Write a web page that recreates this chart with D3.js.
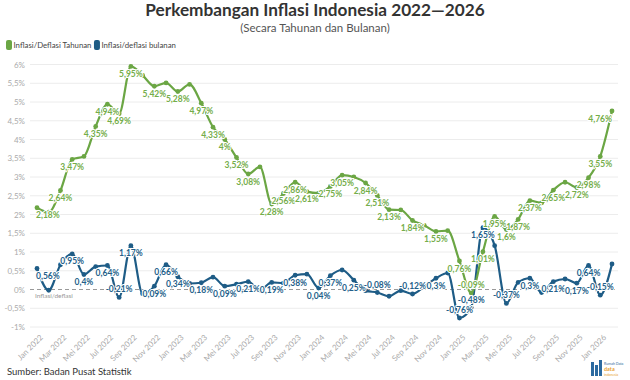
<!DOCTYPE html>
<html><head><meta charset="utf-8">
<script src="https://cdn.jsdelivr.net/npm/d3@7"></script>
<style>
html,body{margin:0;padding:0;background:#fff;}
svg{display:block;font-family:Lato,"Open Sans",sans-serif;}
</style></head>
<body>
<svg id="c" width="630" height="380"></svg>
<script>
const categories = ["Jan 2022","Feb 2022","Mar 2022","Apr 2022","Mei 2022","Jun 2022","Jul 2022","Agu 2022","Sep 2022","Okt 2022","Nov 2022","Des 2022",
"Jan 2023","Feb 2023","Mar 2023","Apr 2023","Mei 2023","Jun 2023","Jul 2023","Agu 2023","Sep 2023","Okt 2023","Nov 2023","Des 2023",
"Jan 2024","Feb 2024","Mar 2024","Apr 2024","Mei 2024","Jun 2024","Jul 2024","Agu 2024","Sep 2024","Okt 2024","Nov 2024","Des 2024",
"Jan 2025","Feb 2025","Mar 2025","Apr 2025","Mei 2025","Jun 2025","Jul 2025","Agu 2025","Sep 2025","Okt 2025","Nov 2025","Des 2025",
"Jan 2026","Feb 2026"];

const yearly = [2.18,2.06,2.64,3.47,3.55,4.35,4.94,4.69,5.95,5.71,5.42,5.51,
5.28,5.47,4.97,4.33,4.00,3.52,3.08,3.27,2.28,2.56,2.86,2.61,
2.57,2.75,3.05,3.00,2.84,2.51,2.13,2.12,1.84,1.71,1.55,1.57,
0.76,-0.09,1.01,1.95,1.60,1.87,2.37,2.31,2.65,2.86,2.72,2.98,
3.55,4.76];

const monthly = [0.56,-0.02,0.66,0.95,0.40,0.61,0.64,-0.21,1.17,-0.11,0.09,0.66,
0.34,0.16,0.18,0.33,0.09,0.14,0.21,-0.02,0.19,0.17,0.38,0.41,
0.04,0.37,0.52,0.25,-0.03,-0.08,-0.18,-0.03,-0.12,0.08,0.30,0.44,
-0.76,-0.48,1.65,1.17,-0.37,0.19,0.30,-0.08,0.21,0.28,0.17,0.64,
-0.15,0.68];

const yearlyLabelIdx = [0,2,3,5,6,7,8,10,12,14,15,16,17,18,20,21,22,23,25,26,28,29,30,32,34,36,37,38,39,40,41,42,44,46,47,48,49];
const monthlyLabelIdx = [0,3,4,6,7,8,10,11,12,14,16,18,20,22,24,25,27,29,32,34,36,37,38,40,42,44,46,47,48];

const yTicks = [-1,-0.5,0,0.5,1,1.5,2,2.5,3,3.5,4,4.5,5,5.5,6];
const xTickLabels = categories.filter((d,i)=>i%2===0);

const seriesNames = ["Inflasi/Deflasi Tahunan","Inflasi/deflasi bulanan"];
const title = "Perkembangan Inflasi Indonesia 2022\u20142026";
const subtitle = "(Secara Tahunan dan Bulanan)";
const source = "Sumber: Badan Pusat Statistik";

const GREEN = "#6ba644", BLUE = "#1e5c86";
const GREEN_T = "#74ad4a", BLUE_T = "#245f8a";

const svg = d3.select("#c");
const x = d3.scalePoint().domain(categories).range([37, 612]);
const y = d3.scaleLinear().domain([-1, 6]).range([327, 64.5]);
const pct = v => String(+v.toFixed(2)).replace(".", ",") + "%";

// title
svg.append("text").attr("x",315).attr("y",15.5).attr("text-anchor","middle")
  .attr("font-size",17.2).attr("font-weight",700).attr("fill","#333").text(title);
svg.append("text").attr("x",315).attr("y",32).attr("text-anchor","middle")
  .attr("font-size",11.5).attr("fill","#555").text(subtitle);

// legend
const lg = svg.append("g").attr("transform","translate(6,45)");
let lx = 0;
[{name:seriesNames[0],c:GREEN},{name:seriesNames[1],c:BLUE}].forEach(it=>{
  lg.append("rect").attr("x",lx).attr("y",-5).attr("width",6).attr("height",10).attr("rx",2).attr("fill",it.c);
  const t = lg.append("text").attr("x",lx+7.5).attr("y",3).attr("font-size",7.8).attr("fill","#444").text(it.name);
  lx += 7.5 + t.node().getComputedTextLength() + 2.5;
});

// grid
svg.append("g").selectAll("line").data(yTicks.filter(d=>d!==0)).join("line")
  .attr("x1",30).attr("x2",618).attr("y1",d=>y(d)).attr("y2",d=>y(d))
  .attr("stroke","#ececec").attr("stroke-width",1);

// y axis labels
const yAxis = d3.axisLeft(y).tickValues(yTicks).tickSize(0).tickPadding(0)
  .tickFormat(d=>String(d).replace(".",",")+"%");
const ya = svg.append("g").attr("transform","translate(25,0)").call(yAxis);
ya.select(".domain").remove();
ya.selectAll("text").attr("font-size",8).attr("fill","#aaa").attr("font-family","Lato,sans-serif");

// x axis labels
const xAxis = d3.axisBottom(x).tickValues(xTickLabels).tickSize(0).tickPadding(0);
const xa = svg.append("g").attr("transform","translate(0,333)").call(xAxis);
xa.select(".domain").remove();
xa.selectAll("text").attr("font-size",8).attr("fill","#aaa").attr("font-family","Lato,sans-serif")
  .attr("text-anchor","end").attr("dy","0.35em")
  .attr("transform","translate(4,3) rotate(-45)");

// zero line
svg.append("line").attr("x1",30).attr("x2",618).attr("y1",y(0)).attr("y2",y(0))
  .attr("stroke","#999").attr("stroke-width",1).attr("stroke-dasharray","4,3");
svg.append("text").attr("x",35).attr("y",y(0)+8).attr("font-size",6.5).attr("fill","#999").text("Inflasi/deflasi");

function drawSeries(vals, color, tcolor, labelIdx){
  const line = d3.line().x((d,i)=>x(categories[i])).y(d=>y(d)).curve(d3.curveMonotoneX);
  svg.append("path").datum(vals).attr("d",line).attr("fill","none")
    .attr("stroke",color).attr("stroke-width",2.2).attr("stroke-linejoin","round");
  svg.append("g").selectAll("circle").data(vals).join("circle")
    .attr("cx",(d,i)=>x(categories[i])).attr("cy",d=>y(d)).attr("r",2.4).attr("fill",color);
  return labelIdx.map(i=>({i, v:vals[i], tcolor}));
}
const labs = [].concat(
  drawSeries(monthly, BLUE, BLUE_T, monthlyLabelIdx),
  drawSeries(yearly, GREEN, GREEN_T, yearlyLabelIdx)
);
svg.append("g").selectAll("text").data(labs).join("text")
  .attr("x",d=>x(categories[d.i]) + (d.i===0?-1:0))
  .attr("y",d=>y(d.v) + (d.v>=0?10.5:-5))
  .attr("text-anchor",d=>d.i===0?"start":(d.i===categories.length-1?"end":"middle"))
  .attr("font-size",8.5).attr("font-weight",700).attr("fill",d=>d.tcolor)
  .attr("stroke","#fff").attr("stroke-width",2).attr("stroke-linejoin","round")
  .attr("paint-order","stroke")
  .text(d=>pct(d.v));

// source
svg.append("text").attr("x",7).attr("y",375).attr("font-size",9.5).attr("fill","#333").text(source);

// logo
const logo = svg.append("g").attr("transform","translate(591,359)");
logo.append("rect").attr("x",0).attr("y",3).attr("width",3).attr("height",14).attr("fill","#2c6aa0");
logo.append("rect").attr("x",4).attr("y",6).attr("width",3).attr("height",11).attr("fill","#2c6aa0");
logo.append("rect").attr("x",8).attr("y",1).attr("width",3).attr("height",16).attr("fill","#2c6aa0");
logo.append("text").attr("x",13).attr("y",6).attr("font-size",3.6).attr("fill","#2c6aa0").text("Rumah Data");
logo.append("text").attr("x",13).attr("y",12).attr("font-size",5.5).attr("font-weight",700).attr("fill","#e8a030").text("data");
logo.append("text").attr("x",13).attr("y",17).attr("font-size",3.4).attr("fill","#e8a030").text("indonesia");
</script>
</body></html>
